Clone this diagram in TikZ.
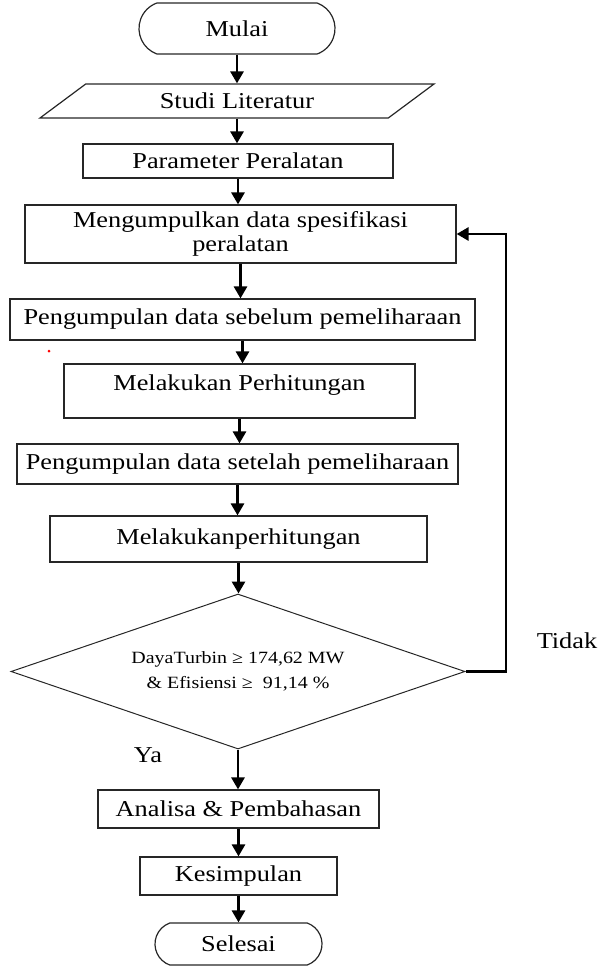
\documentclass[tikz,border=0pt]{standalone}
\usepackage{fontspec}
\setmainfont{Liberation Serif}[FakeStretch=1.16]
\usepackage{tikz}
\usetikzlibrary{arrows.meta,shapes.geometric,shapes.misc}

\begin{document}
\begin{tikzpicture}[
    x=1pt,y=-1pt,
    >={Triangle[width=13pt,length=12pt]},
    every node/.style={font=\fontsize{22.7}{24}\selectfont},
    proses/.style={rectangle,draw=black!85,line width=1.2pt,
                   inner sep=2pt,align=center},
    terminal/.style={rounded rectangle,rounded rectangle arc length=140,
                   draw=black!85,line width=1.2pt,inner sep=2pt},
    masukan/.style={trapezium,draw=black!85,line width=1.2pt,
                   trapezium stretches body,inner sep=2pt,
                   trapezium left angle=23.6,trapezium right angle=156.4},
    keputusan/.style={diamond,draw=black!85,line width=1pt,aspect=2.9,
                   inner sep=0pt,align=center,
                   font=\fontsize{17.2}{25}\selectfont},
    arr/.style={->,line width=2.8pt,black}
  ]
  \useasboundingbox (0,0) rectangle (597,966);
  \node[terminal,minimum width=200pt,minimum height=51pt] (mulai) at (237,28.5) {Mulai};
  \node[masukan,minimum width=394pt,minimum height=34pt] (studi) at (237,101) {Studi Literatur};
  \node[proses,minimum width=310pt,minimum height=34pt] (param) at (238,161) {Parameter Peralatan};
  \node[proses,minimum width=431pt,minimum height=58pt] (kumpul) at (240.5,234)
        {Mengumpulkan data spesifikasi\\peralatan};
  \node[proses,minimum width=465pt,minimum height=41pt] (sebelum) at (242.5,319.5)
        {Pengumpulan data sebelum pemeliharaan};
  \node[proses,minimum width=351pt,minimum height=54pt,text depth=16.5pt] (hitung1) at (239.5,391)
        {Melakukan Perhitungan};
  \node[proses,minimum width=441pt,minimum height=40pt] (setelah) at (237.5,464)
        {Pengumpulan data setelah pemeliharaan};
  \node[proses,minimum width=377pt,minimum height=46pt] (hitung2) at (238.5,539)
        {Melakukanperhitungan};
  \node[keputusan,minimum width=454pt,minimum height=155pt] (cek) at (238,671.5)
        {DayaTurbin ≥ 174,62 MW\\\& Efisiensi ≥ ~91,14 \%};
  \node[proses,minimum width=281pt,minimum height=38pt] (analisa) at (238.5,809)
        {Analisa \& Pembahasan};
  \node[proses,minimum width=197pt,minimum height=38pt] (simpul) at (238.5,876)
        {Kesimpulan};
  \node[terminal,minimum width=171pt,minimum height=42pt] (selesai) at (238.5,944)
        {Selesai};
  \foreach \a/\b in {mulai/studi, studi/param, param/kumpul, kumpul/sebelum,
                     sebelum/hitung1, hitung1/setelah, setelah/hitung2,
                     hitung2/cek, cek/analisa, analisa/simpul, simpul/selesai}
    \draw[arr] (\a.south) -- (\a.south |- \b.north);
  %% jalur kembali bila syarat tidak terpenuhi
  \coordinate (balik) at (506,234);
  \draw[arr] (cek.east) -| (balik) -- (kumpul.east);
  \node (ya) at (148,755) {Ya};
  \node (tidak) at (567,641) {Tidak};
  \fill[red] (49,351) circle (1.5pt);
\end{tikzpicture}
\end{document}
